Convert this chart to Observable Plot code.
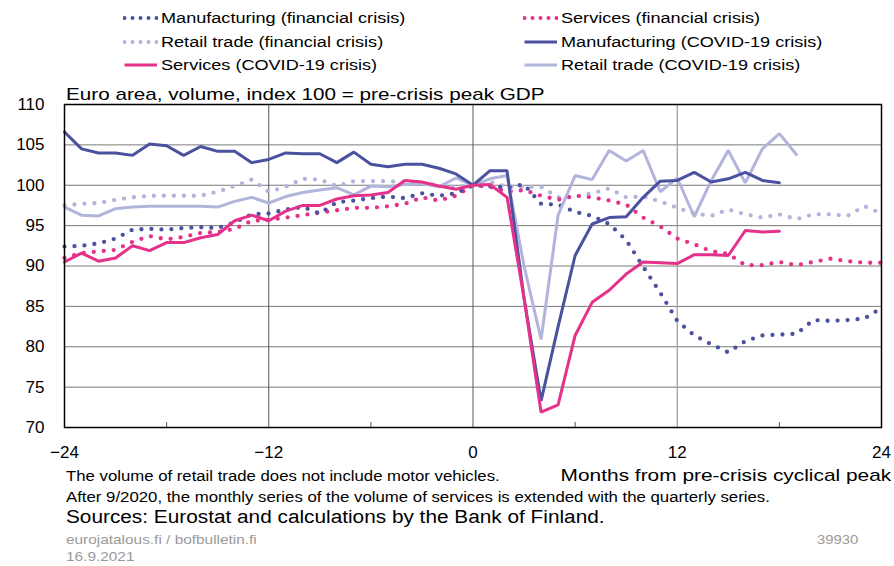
<!DOCTYPE html>
<html><head><meta charset="utf-8">
<script src="https://cdn.jsdelivr.net/npm/d3@7"></script>
<script src="https://cdn.jsdelivr.net/npm/@observablehq/plot@0.6"></script>
<style>
body{margin:0;background:#fff;}
#wrap{position:relative;width:894px;height:566px;overflow:hidden;font-family:"Liberation Sans",Arial,sans-serif;color:#000;background:#fff;}
#wrap > svg{position:absolute;left:0;top:0;}
.t{position:absolute;white-space:pre;}
.leg{position:absolute;display:flex;align-items:center;height:20px;font-size:15.5px;white-space:nowrap;}
.leg svg{margin-right:3px;}
.leg span{display:inline-block;transform:scaleX(1.167);transform-origin:0 50%;}
</style></head><body><div id="wrap"></div>
<script>
// ---- data ----
const finMonths = d3.range(-24, 25);      // -24 ... 24
const covidMonths = d3.range(-24, 19);    // -24 ... 18
const retailCovidMonths = d3.range(-24, 20); // -24 ... 19

const manufacturingFinancial = [92.4, 92.5, 92.8, 93.4, 94.5, 94.6, 94.5, 94.7, 94.8, 94.7, 95.4, 96.4, 96.5, 97.0, 97.3, 96.5, 97.9, 98.1, 98.4, 98.6, 98.4, 99.0, 98.7, 99.0,
  100, 99.9, 99.7, 100.1, 97.7, 97.6, 96.7, 96.2, 95.2, 93.2, 89.9, 86.7, 83.2, 81.4, 80.3, 79.3, 80.7, 81.4, 81.5, 81.6, 83.3, 83.2, 83.3, 83.5, 84.8];
const servicesFinancial = [91.0, 91.6, 91.8, 92.0, 93.0, 93.7, 93.3, 93.6, 94.1, 94.2, 94.6, 95.6, 95.7, 96.0, 96.3, 96.6, 96.9, 97.2, 97.2, 97.4, 97.7, 98.5, 98.1, 98.7,
  100, 99.8, 99.2, 99.4, 98.7, 98.2, 98.7, 98.5, 98.1, 97.6, 96.0, 94.9, 93.4, 92.7, 91.8, 91.5, 90.1, 90.1, 90.5, 90.1, 90.5, 90.9, 90.6, 90.4, 90.4];
const retailFinancial = [97.5, 97.7, 97.8, 98.2, 98.5, 98.7, 98.7, 98.7, 98.7, 99.2, 99.9, 100.7, 99.2, 99.8, 100.8, 100.7, 99.9, 100.5, 100.5, 100.5, 100.4, 100.2, 100.0, 99.8,
  100, 100.4, 99.8, 99.8, 99.8, 98.5, 98.6, 99.0, 99.6, 98.5, 98.6, 98.0, 97.2, 96.5, 96.2, 97.0, 96.4, 96.0, 96.4, 95.8, 96.4, 96.4, 96.2, 97.4, 96.5];
const manufacturingCovid = [106.6, 104.5, 104.0, 104.0, 103.7, 105.1, 104.9, 103.7, 104.8, 104.2, 104.2, 102.8, 103.2, 104.0, 103.9, 103.9, 102.8, 104.1, 102.6, 102.3, 102.6, 102.6, 102.1, 101.4,
  100, 101.8, 101.8, 86.0, 73.3, 82.5, 91.3, 95.2, 96.0, 96.1, 98.5, 100.5, 100.6, 101.6, 100.4, 100.8, 101.6, 100.6, 100.3];
const servicesCovid = [90.5, 91.6, 90.6, 91.0, 92.5, 91.9, 92.9, 92.9, 93.5, 93.9, 95.6, 96.3, 95.6, 96.8, 97.5, 97.5, 98.3, 98.7, 98.8, 99.1, 100.6, 100.4, 99.9, 99.5,
  100, 100.1, 98.5, 86.0, 71.9, 72.8, 81.4, 85.5, 87.0, 89.0, 90.5, 90.4, 90.3, 91.4, 91.4, 91.3, 94.4, 94.2, 94.3];
const retailCovid = [97.3, 96.3, 96.2, 97.1, 97.3, 97.4, 97.4, 97.4, 97.4, 97.3, 98.0, 98.5, 97.8, 98.6, 99.1, 99.4, 99.7, 98.8, 99.9, 99.8, 100.1, 100.2, 99.8, 100.9,
  100, 100.8, 101.2, 90.0, 80.9, 96.3, 101.2, 100.7, 104.3, 103.0, 104.3, 99.2, 100.9, 96.1, 100.6, 104.3, 100.3, 104.5, 106.4, 103.8];

const yTicks = [70, 75, 80, 85, 90, 95, 100, 105, 110];
const xTicks = [-24, -12, 0, 12, 24];
const xMinorTicks = [-18, -6, 6, 18];
const gridY = [75, 80, 85, 90, 95, 100, 105];

const BLUE = "#4a519f", PINK = "#e5318a", LAV = "#b1b4db";

const seriesDefs = [
  {name: "Manufacturing (financial crisis)", months: finMonths, values: manufacturingFinancial, color: BLUE, dotted: true},
  {name: "Services (financial crisis)", months: finMonths, values: servicesFinancial, color: PINK, dotted: true},
  {name: "Retail trade (financial crisis)", months: finMonths, values: retailFinancial, color: LAV, dotted: true},
  {name: "Manufacturing (COVID-19 crisis)", months: covidMonths, values: manufacturingCovid, color: BLUE, dotted: false},
  {name: "Services (COVID-19 crisis)", months: covidMonths, values: servicesCovid, color: PINK, dotted: false},
  {name: "Retail trade (COVID-19 crisis)", months: retailCovidMonths, values: retailCovid, color: LAV, dotted: false}
];
const rows = s => s.values.map((v, i) => ({month: s.months[i], value: v}));

// draw order: dotted first, then retail, manufacturing, services solid
const drawOrder = [2, 1, 0, 5, 3, 4];
const lineMarks = drawOrder.map(i => {
  const s = seriesDefs[i];
  return s.dotted
    ? Plot.line(rows(s), {x: "month", y: "value", stroke: s.color, strokeWidth: 4.3, strokeDasharray: "0 10", strokeLinecap: "round", strokeLinejoin: "round"})
    : Plot.line(rows(s), {x: "month", y: "value", stroke: s.color, strokeWidth: 3, strokeLinejoin: "miter"});
});

const chart = Plot.plot({
  width: 894, height: 566,
  marginLeft: 64, marginRight: 13, marginTop: 104, marginBottom: 139,
  style: {fontFamily: '"Liberation Sans", Arial, sans-serif', fontSize: "17px", color: "#000", background: "transparent", overflow: "visible"},
  x: {domain: [-24, 24]},
  y: {domain: [70, 110]},
  marks: [
    Plot.ruleY(gridY, {stroke: "#7a7a7a", strokeWidth: 1}),
    Plot.ruleX([-12, 0], {stroke: "#555", strokeWidth: 1}),
    Plot.ruleX([12], {stroke: "#9a9a9a", strokeWidth: 1.2}),
    Plot.axisX(xMinorTicks, {anchor: "bottom", tickSize: -5, tickFormat: () => "", label: null, stroke: "#555"}),
    Plot.axisY(yTicks, {anchor: "left", tickSize: 0, tickPadding: 20, label: null, fontSize: 17}),
    Plot.axisX(xTicks, {anchor: "bottom", tickSize: 0, tickPadding: 18, label: null, fontSize: 17}),
    ...lineMarks,
    Plot.frame({stroke: "#000", strokeWidth: 1.5})
  ]
});

const wrap = document.getElementById("wrap");
wrap.appendChild(chart);

// ---- texts ----
function addText(str, o) {
  const d = document.createElement("div");
  d.className = "t";
  d.textContent = str;
  const fs = o.size;
  d.style.fontSize = fs + "px";
  d.style.lineHeight = fs + "px";
  d.style.top = (o.baseline - 0.8465 * fs) + "px";
  if (o.left != null) d.style.left = o.left + "px";
  if (o.right != null) d.style.right = o.right + "px";
  if (o.color) d.style.color = o.color;
  d.style.transform = "scaleX(" + (o.sx || 1) + ")";
  d.style.transformOrigin = o.right != null ? "100% 50%" : "0 50%";
  wrap.appendChild(d);
}
addText("Euro area, volume, index 100 = pre-crisis peak GDP", {left: 66, baseline: 100, size: 17, sx: 1.216});
addText("Months from pre-crisis cyclical peak", {right: 3, baseline: 481.5, size: 17, sx: 1.228});
addText("The volume of retail trade does not include motor vehicles.", {left: 66, baseline: 481, size: 14, sx: 1.196});
addText("After 9/2020, the monthly series of the volume of services is extended with the quarterly series.", {left: 66, baseline: 501.5, size: 14, sx: 1.198});
addText("Sources: Eurostat and calculations by the Bank of Finland.", {left: 66, baseline: 523.3, size: 18, sx: 1.155});
addText("eurojatalous.fi / bofbulletin.fi", {left: 66, baseline: 544, size: 13.5, color: "#9a9a9a", sx: 1.14});
addText("16.9.2021", {left: 66, baseline: 561.5, size: 13.5, color: "#9a9a9a", sx: 1.14});
addText("39930", {left: 817, baseline: 544, size: 13.5, color: "#9a9a9a", sx: 1.1});

// ---- legend ----
const legendLayout = [
  {i: 0, left: 123, top: 8.1}, {i: 1, left: 523, top: 8.1},
  {i: 2, left: 123, top: 31.7}, {i: 3, left: 523, top: 31.7},
  {i: 4, left: 123, top: 55.3}, {i: 5, left: 523, top: 55.3}
];
legendLayout.forEach(({i, left, top}) => {
  const s = seriesDefs[i];
  const d = document.createElement("div");
  d.className = "leg";
  d.style.left = left + "px";
  d.style.top = top + "px";
  const sw = d3.create("svg").attr("width", 35).attr("height", 8);
  const ln = sw.append("line").attr("x1", 1.5).attr("x2", 34).attr("y1", 4).attr("y2", 4).attr("stroke", s.color);
  if (s.dotted) ln.attr("stroke-width", 4).attr("stroke-dasharray", "0 8").attr("stroke-linecap", "round");
  else ln.attr("stroke-width", 3);
  d.appendChild(sw.node());
  const sp = document.createElement("span");
  sp.textContent = s.name;
  d.appendChild(sp);
  wrap.appendChild(d);
});
</script></body></html>
